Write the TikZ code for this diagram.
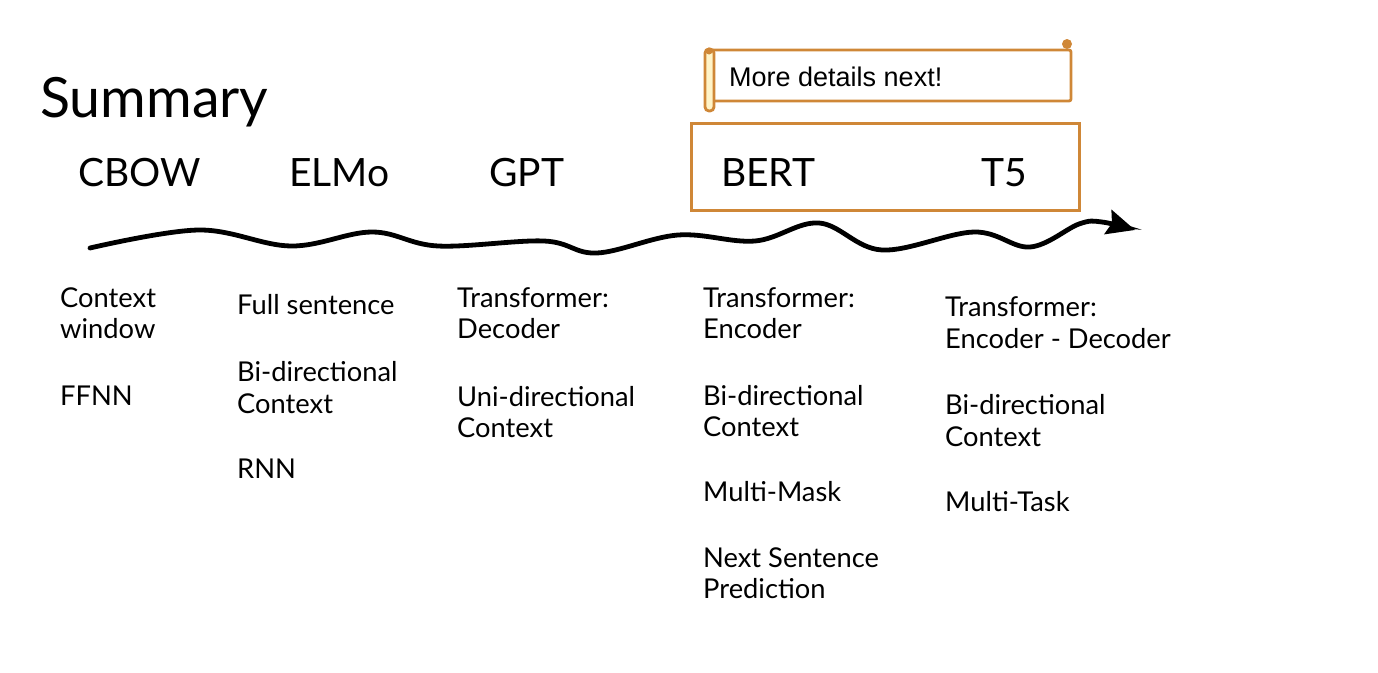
\documentclass[tikz,border=0pt]{standalone}
\usepackage{fontspec}
\setmainfont{Lato}
\newfontfamily\notefont{Liberation Sans}
\usetikzlibrary{arrows.meta}
\definecolor{slideorange}{RGB}{207,135,55}
\definecolor{scrollfill}{RGB}{255,244,200}

\begin{document}
\begin{tikzpicture}[x=1pt, y=-1pt,
    model/.style={anchor=base west, inner sep=0pt, font=\fontsize{39}{47}\selectfont},
    point/.style={anchor=base west, inner sep=0pt, font=\fontsize{27.3}{32}\selectfont},
    frame/.style={draw=slideorange, line width=3pt}]
  \useasboundingbox (0,0) rectangle (1378,672);

  % title and model names
  \node[anchor=base west, inner sep=0pt, font=\fontsize{55.5}{64}\selectfont] (title) at (40,117) {Summary};
  \foreach \name/\x in {CBOW/78, ELMo/289, GPT/489, BERT/721, T5/981}
    \node[model] (\name) at (\x,186) {\name};

  % box round BERT and T5
  \draw[frame] (691,123) rectangle (1079,210);

  % scroll with the note
  \draw[frame, line width=2.8pt, rounded corners=2pt] (712,50) -- (1071,50) -- (1071,101) -- (712,101);
  \fill[slideorange] (1067,44) circle (5);
  \draw[frame, line width=2.8pt, fill=scrollfill, rounded corners=4pt] (705,49) rectangle (714,111);
  \fill[slideorange] (709,51) circle (3.5);
  \node[anchor=base west, inner sep=0pt, font=\notefont\fontsize{27}{32}\selectfont] (note) at (729,86) {More details next!};

  % timeline
  \coordinate (start) at (90,248);
  \coordinate (tip) at (1135,230);
  \draw[line width=4.8pt, line cap=round, -{Stealth[length=28pt,width=25pt,inset=4pt]}]
    plot[smooth, tension=0.6] coordinates {(start) (199,230) (291,246) (372,232) (438,246) (544,241)
      (597,253) (678,235) (755,241) (819,223) (882,250) (974,232) (1030,247) (1079,224) (1102,222) (tip)};

  % one line of text per entry: x / baseline / text
  \foreach \x/\y/\txt [count=\i] in {%
      60/307/Context, 60/338/window, 60/405/FFNN,
      237/314/Full sentence, 237/381/Bi-directional, 237/413/Context, 237/478/RNN,
      457/307/Transformer:, 457/338/Decoder, 457/406/Uni-directional, 457/437/Context,
      703/307/Transformer:, 703/338/Encoder, 703/405/Bi-directional, 703/436/Context,
      703/501/Multi-Mask, 703/567/Next Sentence, 703/598/Prediction,
      945/316/Transformer:, 945/348/Encoder - Decoder, 945/414/Bi-directional, 945/446/Context,
      945/511/Multi-Task}
    \node[point] (line\i) at (\x,\y) {\txt};
\end{tikzpicture}
\end{document}
